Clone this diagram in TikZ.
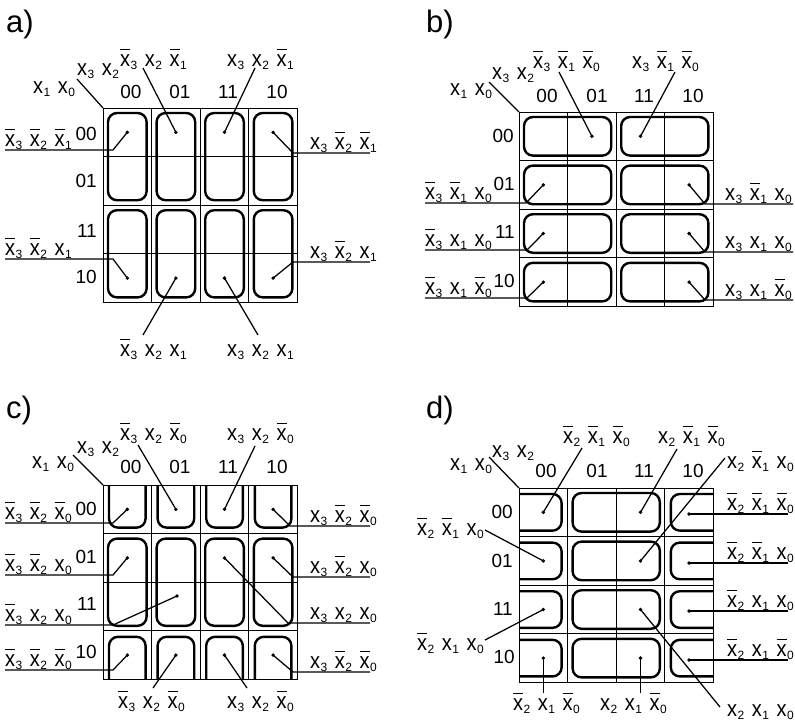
\documentclass[tikz,border=0pt]{standalone}
\usepackage{graphicx}
\usepackage{fontspec}
\setmainfont{Liberation Sans}
\newcommand\subf{\fontsize{12}{12}\selectfont}
\newcommand\xx{\scalebox{1}[1.12]{x}}
\newcommand\lpos[1]{\xx\kern0.5pt\raisebox{-3.5pt}{\subf #1}}
\newcommand\lneg[1]{\makebox[0pt][l]{\rule[15.8pt]{10pt}{1.3pt}}\xx\kern0.5pt\raisebox{-3.5pt}{\subf #1}}
\newcommand\gp{\hspace{7.5pt}}
\newcommand\lblf{\fontsize{20}{24}\selectfont}
\newcommand\hdrf{\fontsize{19}{22}\selectfont}
\newcommand\panf{\fontsize{31}{34}\selectfont}
\newcommand\kgrid[2]{%
  \draw[gridl] (#1,#2) rectangle ({#1+194.4},{#2+194.4});
  \foreach \i in {1,2,3}{
    \draw[gridl] ({#1+\i*48.6},#2) -- ({#1+\i*48.6},{#2+194.4});
    \draw[gridl] (#1,{#2+\i*48.6}) -- ({#1+194.4},{#2+\i*48.6});
  }}
\begin{document}
\begin{tikzpicture}[x=1pt,y=-1pt,
  gridl/.style={line width=0.9pt},
  lp/.style={line width=2.4pt, rounded corners=9pt},
  ld/.style={line width=1.25pt},
  dt/.style={circle, fill, inner sep=0pt, minimum size=3.8pt},
  tl/.style={inner sep=0pt, anchor=base west, font=\lblf},
  hd/.style={inner sep=0pt, anchor=base, font=\hdrf},
  rh/.style={inner sep=0pt, anchor=base east, font=\hdrf},
  pl/.style={inner sep=0pt, anchor=base west, font=\panf}]
\useasboundingbox (0,0) rectangle (795,721);

%% ================= a) =================
\kgrid{103}{108}
\foreach \c in {0,...,3}{
  \draw[lp] ({103+\c*48.6+5},{108+5}) rectangle ({103+(\c+1)*48.6-5},{108+2*48.6-5});
  \draw[lp] ({103+\c*48.6+5},{108+2*48.6+5}) rectangle ({103+(\c+1)*48.6-5},{108+4*48.6-5});
}
\node[pl] (aP) at (6,32) {a)};
\node[tl] (aV1) at (33,93) {\lpos{1}\gp\lpos{0}};
\node[tl] (aV2) at (77,75) {\lpos{3}\gp\lpos{2}};
\coordinate (aC0) at (103,108); \coordinate (aC1) at (77,79);
\draw[ld] (aC0) -- (aC1);
\node[hd] (aH1) at (131,98) {00};
\node[hd] (aH2) at (180,98) {01};
\node[hd] (aH3) at (228,98) {11};
\node[hd] (aH4) at (277,98) {10};
\node[rh] (aR1) at (97,140) {00};
\node[rh] (aR2) at (97,187) {01};
\node[rh] (aR3) at (97,237) {11};
\node[rh] (aR4) at (97,283) {10};
\node[dt] (aD1) at (175.9,132.3) {};
\node[dt] (aD2) at (224.5,132.3) {};
\node[dt] (aD3) at (127.3,132.3) {};
\node[dt] (aD4) at (127.3,278.1) {};
\node[dt] (aD5) at (273.1,132.3) {};
\node[dt] (aD6) at (273.1,278.1) {};
\node[dt] (aD7) at (175.9,278.1) {};
\node[dt] (aD8) at (224.5,278.1) {};
\node[tl] (aL1) at (120,66) {\lneg{3}\gp\lpos{2}\gp\lneg{1}};
\node[tl] (aL2) at (227,66) {\lpos{3}\gp\lpos{2}\gp\lneg{1}};
\node[tl] (aL3) at (5,146) {\lneg{3}\gp\lneg{2}\gp\lneg{1}};
\node[tl] (aL4) at (5,255) {\lneg{3}\gp\lneg{2}\gp\lpos{1}};
\node[tl] (aL5) at (310,149) {\lpos{3}\gp\lneg{2}\gp\lneg{1}};
\node[tl] (aL6) at (310,258) {\lpos{3}\gp\lneg{2}\gp\lpos{1}};
\node[tl] (aL7) at (120,356) {\lneg{3}\gp\lpos{2}\gp\lpos{1}};
\node[tl] (aL8) at (227,356) {\lpos{3}\gp\lpos{2}\gp\lpos{1}};
\coordinate (aT1) at (143,68); \coordinate (aT2) at (255,68);
\coordinate (aU3a) at (5,150); \coordinate (aU3b) at (113,150);
\coordinate (aU4a) at (5,259); \coordinate (aU4b) at (113,259);
\coordinate (aU5a) at (370,153); \coordinate (aU5b) at (293,153);
\coordinate (aU6a) at (370,262); \coordinate (aU6b) at (293,262);
\coordinate (aB7) at (143,335); \coordinate (aB8) at (258,335);
\draw[ld] (aT1) -- (aD1.center);
\draw[ld] (aT2) -- (aD2.center);
\draw[ld] (aU3a) -- (aU3b) -- (aD3.center);
\draw[ld] (aU4a) -- (aU4b) -- (aD4.center);
\draw[ld] (aU5a) -- (aU5b) -- (aD5.center);
\draw[ld] (aU6a) -- (aU6b) -- (aD6.center);
\draw[ld] (aB7) -- (aD7.center);
\draw[ld] (aB8) -- (aD8.center);

%% ================= b) =================
\kgrid{519}{112}
\foreach \r in {0,...,3}{
  \draw[lp] ({519+5},{112+\r*48.6+5}) rectangle ({519+2*48.6-5},{112+(\r+1)*48.6-5});
  \draw[lp] ({519+2*48.6+5},{112+\r*48.6+5}) rectangle ({519+4*48.6-5},{112+(\r+1)*48.6-5});
}
\node[pl] (bP) at (426,32) {b)};
\node[tl] (bV1) at (450,95) {\lpos{1}\gp\lpos{0}};
\node[tl] (bV2) at (492,79) {\lpos{3}\gp\lpos{2}};
\coordinate (bC0) at (519,112); \coordinate (bC1) at (489,82);
\draw[ld] (bC0) -- (bC1);
\node[hd] (bH1) at (547,102) {00};
\node[hd] (bH2) at (597,102) {01};
\node[hd] (bH3) at (644,102) {11};
\node[hd] (bH4) at (693,102) {10};
\node[rh] (bR1) at (514,142) {00};
\node[rh] (bR2) at (515,190) {01};
\node[rh] (bR3) at (515,238) {11};
\node[rh] (bR4) at (515,287) {10};
\node[dt] (bD1) at (591.9,136.3) {};
\node[dt] (bD2) at (640.5,136.3) {};
\node[dt] (bD3) at (543.3,184.9) {};
\node[dt] (bD4) at (543.3,233.5) {};
\node[dt] (bD5) at (543.3,282.1) {};
\node[dt] (bD6) at (689.1,184.9) {};
\node[dt] (bD7) at (689.1,233.5) {};
\node[dt] (bD8) at (689.1,282.1) {};
\node[tl] (bL1) at (533,68) {\lneg{3}\gp\lneg{1}\gp\lneg{0}};
\node[tl] (bL2) at (632,68) {\lpos{3}\gp\lneg{1}\gp\lneg{0}};
\node[tl] (bL3) at (425,199) {\lneg{3}\gp\lneg{1}\gp\lpos{0}};
\node[tl] (bL4) at (425,246) {\lneg{3}\gp\lpos{1}\gp\lpos{0}};
\node[tl] (bL5) at (425,294) {\lneg{3}\gp\lpos{1}\gp\lneg{0}};
\node[tl] (bL6) at (725,200) {\lpos{3}\gp\lneg{1}\gp\lpos{0}};
\node[tl] (bL7) at (725,248) {\lpos{3}\gp\lpos{1}\gp\lpos{0}};
\node[tl] (bL8) at (725,296) {\lpos{3}\gp\lpos{1}\gp\lneg{0}};
\coordinate (bT1) at (559,72); \coordinate (bT2) at (675,72);
\coordinate (bU3a) at (425,203); \coordinate (bU3b) at (526,203);
\coordinate (bU4a) at (425,250); \coordinate (bU4b) at (527,250);
\coordinate (bU5a) at (425,298); \coordinate (bU5b) at (527,298);
\coordinate (bU6a) at (793,204); \coordinate (bU6b) at (705,204);
\coordinate (bU7a) at (793,252); \coordinate (bU7b) at (705,252);
\coordinate (bU8a) at (793,300); \coordinate (bU8b) at (705,300);
\draw[ld] (bT1) -- (bD1.center);
\draw[ld] (bT2) -- (bD2.center);
\draw[ld] (bU3a) -- (bU3b) -- (bD3.center);
\draw[ld] (bU4a) -- (bU4b) -- (bD4.center);
\draw[ld] (bU5a) -- (bU5b) -- (bD5.center);
\draw[ld] (bU6a) -- (bU6b) -- (bD6.center);
\draw[ld] (bU7a) -- (bU7b) -- (bD7.center);
\draw[ld] (bU8a) -- (bU8b) -- (bD8.center);

%% ================= c) =================
\kgrid{103}{485}
\foreach \c in {0,...,3}{
  \draw[lp] ({103+\c*48.6+6},485) -- ({103+\c*48.6+6},{485+48.6-6}) -- ({103+(\c+1)*48.6-6},{485+48.6-6}) -- ({103+(\c+1)*48.6-6},485);
  \draw[lp] ({103+\c*48.6+5},{485+48.6+5}) rectangle ({103+(\c+1)*48.6-5},{485+3*48.6-5});
  \draw[lp] ({103+\c*48.6+6},{485+4*48.6}) -- ({103+\c*48.6+6},{485+3*48.6+6}) -- ({103+(\c+1)*48.6-6},{485+3*48.6+6}) -- ({103+(\c+1)*48.6-6},{485+4*48.6});
}
\node[pl] (cP) at (6,418) {c)};
\node[tl] (cV1) at (32,468) {\lpos{1}\gp\lpos{0}};
\node[tl] (cV2) at (77,453) {\lpos{3}\gp\lpos{2}};
\coordinate (cC0) at (103,485); \coordinate (cC1) at (73,455);
\draw[ld] (cC0) -- (cC1);
\node[hd] (cH1) at (131,473) {00};
\node[hd] (cH2) at (180,473) {01};
\node[hd] (cH3) at (228,473) {11};
\node[hd] (cH4) at (277,473) {10};
\node[rh] (cR1) at (97,515) {00};
\node[rh] (cR2) at (97,563) {01};
\node[rh] (cR3) at (97,610) {11};
\node[rh] (cR4) at (97,658) {10};
\node[dt] (cD1) at (175.9,509.3) {};
\node[dt] (cD2) at (224.5,509.3) {};
\node[dt] (cD3) at (127.3,509.3) {};
\node[dt] (cD4) at (127.3,557.9) {};
\node[dt] (cD5) at (177,596) {};
\node[dt] (cD6) at (127.3,655.1) {};
\node[dt] (cD7) at (273.1,509.3) {};
\node[dt] (cD8) at (273.1,557.9) {};
\node[dt] (cD9) at (224.5,557.9) {};
\node[dt] (cD10) at (273.1,655.1) {};
\node[dt] (cD11) at (175.9,655.1) {};
\node[dt] (cD12) at (224.5,655.1) {};
\node[tl] (cL1) at (120,440) {\lneg{3}\gp\lpos{2}\gp\lneg{0}};
\node[tl] (cL2) at (227,440) {\lpos{3}\gp\lpos{2}\gp\lneg{0}};
\node[tl] (cL3) at (5,519) {\lneg{3}\gp\lneg{2}\gp\lneg{0}};
\node[tl] (cL4) at (5,571) {\lneg{3}\gp\lneg{2}\gp\lpos{0}};
\node[tl] (cL5) at (5,621) {\lneg{3}\gp\lpos{2}\gp\lpos{0}};
\node[tl] (cL6) at (5,666) {\lneg{3}\gp\lneg{2}\gp\lneg{0}};
\node[tl] (cL7) at (310,522) {\lpos{3}\gp\lneg{2}\gp\lneg{0}};
\node[tl] (cL8) at (310,573) {\lpos{3}\gp\lneg{2}\gp\lpos{0}};
\node[tl] (cL9) at (310,619) {\lpos{3}\gp\lpos{2}\gp\lpos{0}};
\node[tl] (cL10) at (310,668) {\lpos{3}\gp\lneg{2}\gp\lneg{0}};
\node[tl] (cL11) at (118,708) {\lneg{3}\gp\lpos{2}\gp\lneg{0}};
\node[tl] (cL12) at (227,708) {\lpos{3}\gp\lpos{2}\gp\lneg{0}};
\coordinate (cT1) at (138,445); \coordinate (cT2) at (255,446);
\coordinate (cU3a) at (5,523); \coordinate (cU3b) at (113,523);
\coordinate (cU4a) at (5,575); \coordinate (cU4b) at (113,575);
\coordinate (cU5a) at (5,625); \coordinate (cU5b) at (113,625);
\coordinate (cU6a) at (5,670); \coordinate (cU6b) at (113,670);
\coordinate (cU7a) at (370,526); \coordinate (cU7b) at (290,526);
\coordinate (cU8a) at (370,577); \coordinate (cU8b) at (293,577);
\coordinate (cU9a) at (370,623); \coordinate (cU9b) at (288,623);
\coordinate (cU10a) at (370,672); \coordinate (cU10b) at (293,672);
\coordinate (cB11) at (153,688); \coordinate (cB12) at (247,688);
\draw[ld] (cT1) -- (cD1.center);
\draw[ld] (cT2) -- (cD2.center);
\draw[ld] (cU3a) -- (cU3b) -- (cD3.center);
\draw[ld] (cU4a) -- (cU4b) -- (cD4.center);
\draw[ld] (cU5a) -- (cU5b) -- (cD5.center);
\draw[ld] (cU6a) -- (cU6b) -- (cD6.center);
\draw[ld] (cU7a) -- (cU7b) -- (cD7.center);
\draw[ld] (cU8a) -- (cU8b) -- (cD8.center);
\draw[ld] (cU9a) -- (cU9b) -- (cD9.center);
\draw[ld] (cU10a) -- (cU10b) -- (cD10.center);
\draw[ld] (cB11) -- (cD11.center);
\draw[ld] (cB12) -- (cD12.center);

%% ================= d) =================
\kgrid{519}{488}
\foreach \r in {0,...,3}{
  \draw[lp] (519,{488+\r*48.6+6}) -- ({519+48.6-6},{488+\r*48.6+6}) -- ({519+48.6-6},{488+(\r+1)*48.6-6}) -- (519,{488+(\r+1)*48.6-6});
  \draw[lp] ({519+48.6+5},{488+\r*48.6+5}) rectangle ({519+3*48.6-5},{488+(\r+1)*48.6-5});
  \draw[lp] ({519+4*48.6},{488+\r*48.6+6}) -- ({519+3*48.6+6},{488+\r*48.6+6}) -- ({519+3*48.6+6},{488+(\r+1)*48.6-6}) -- ({519+4*48.6},{488+(\r+1)*48.6-6});
}
\node[pl] (dP) at (426,418) {d)};
\node[tl] (dV1) at (450,470) {\lpos{1}\gp\lpos{0}};
\node[tl] (dV2) at (492,457) {\lpos{3}\gp\lpos{2}};
\coordinate (dC0) at (519,488); \coordinate (dC1) at (489,457);
\draw[ld] (dC0) -- (dC1);
\node[hd] (dH1) at (546,477) {00};
\node[hd] (dH2) at (597,477) {01};
\node[hd] (dH3) at (644,477) {11};
\node[hd] (dH4) at (693,477) {10};
\node[rh] (dR1) at (513,518) {00};
\node[rh] (dR2) at (513,567) {01};
\node[rh] (dR3) at (513,615) {11};
\node[rh] (dR4) at (515,663) {10};
\node[dt] (dD1) at (543.3,512.3) {};
\node[dt] (dD2) at (640.5,512.3) {};
\node[dt] (dD3) at (640.5,560.9) {};
\node[dt] (dD4) at (689.1,514) {};
\node[dt] (dD5) at (689.1,563) {};
\node[dt] (dD6) at (689.1,611) {};
\node[dt] (dD7) at (689.1,660) {};
\node[dt] (dD8) at (543.3,560.9) {};
\node[dt] (dD9) at (543.3,609.5) {};
\node[dt] (dD10) at (543.3,658.1) {};
\node[dt] (dD11) at (640.5,658.1) {};
\node[dt] (dD12) at (640.5,609.5) {};
\node[tl] (dL1) at (563,443) {\lneg{2}\gp\lneg{1}\gp\lneg{0}};
\node[tl] (dL2) at (658,443) {\lpos{2}\gp\lneg{1}\gp\lneg{0}};
\node[tl] (dL3) at (727,468) {\lpos{2}\gp\lneg{1}\gp\lpos{0}};
\node[tl] (dL4) at (727,510) {\lneg{2}\gp\lneg{1}\gp\lneg{0}};
\node[tl] (dL5) at (727,559) {\lneg{2}\gp\lneg{1}\gp\lpos{0}};
\node[tl] (dL6) at (727,607) {\lneg{2}\gp\lpos{1}\gp\lpos{0}};
\node[tl] (dL7) at (727,656) {\lneg{2}\gp\lpos{1}\gp\lneg{0}};
\node[tl] (dL8) at (417,535) {\lneg{2}\gp\lneg{1}\gp\lpos{0}};
\node[tl] (dL9) at (417,650) {\lneg{2}\gp\lpos{1}\gp\lpos{0}};
\node[tl] (dL10) at (513,710) {\lneg{2}\gp\lpos{1}\gp\lneg{0}};
\node[tl] (dL11) at (600,710) {\lpos{2}\gp\lpos{1}\gp\lneg{0}};
\node[tl] (dL12) at (727,716) {\lpos{2}\gp\lpos{1}\gp\lpos{0}};
\coordinate (dT1) at (582,448); \coordinate (dT2) at (677,449);
\coordinate (dT3) at (725,458);
\coordinate (dE4) at (788,514); \coordinate (dE5) at (788,563);
\coordinate (dE6) at (788,611); \coordinate (dE7) at (788,660);
\coordinate (dS8) at (485,530); \coordinate (dS9) at (485,640);
\coordinate (dB10) at (543.3,693); \coordinate (dB11) at (640.5,693);
\coordinate (dB12) at (720,707);
\draw[ld] (dT1) -- (dD1.center);
\draw[ld] (dT2) -- (dD2.center);
\draw[ld] (dT3) -- (dD3.center);
\draw[ld] (dD4.center) -- (dE4);
\draw[ld] (dD5.center) -- (dE5);
\draw[ld] (dD6.center) -- (dE6);
\draw[ld] (dD7.center) -- (dE7);
\draw[ld] (dS8) -- (dD8.center);
\draw[ld] (dS9) -- (dD9.center);
\draw[ld] (dD10.center) -- (dB10);
\draw[ld] (dD11.center) -- (dB11);
\draw[ld] (dB12) -- (dD12.center);
\end{tikzpicture}
\end{document}
